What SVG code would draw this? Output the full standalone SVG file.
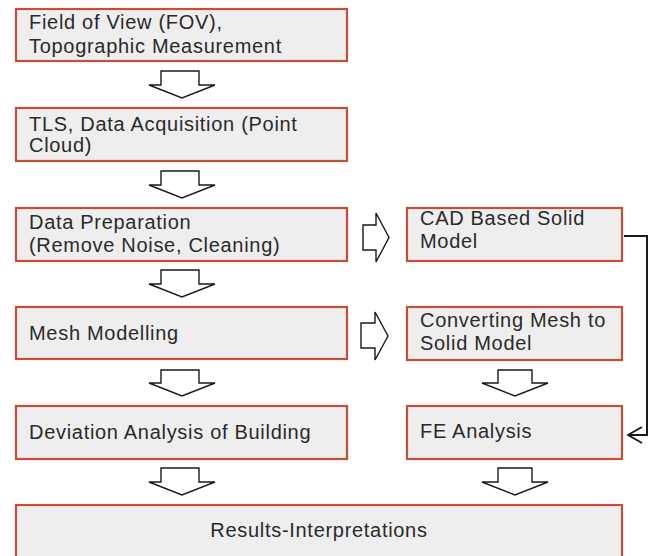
<svg xmlns="http://www.w3.org/2000/svg" width="655" height="556" viewBox="0 0 655 556">
<defs>
<style>
.box{fill:#eeeeee;stroke:#c0503a;stroke-width:2.2}
.t{font-family:"Liberation Sans",Arial,sans-serif;font-size:20px;fill:#2a2a2a;letter-spacing:0.7px}
.blk{fill:#ffffff;stroke:#1a1a1a;stroke-width:1.4;stroke-linejoin:miter}
.con{fill:none;stroke:#1a1a1a;stroke-width:2}
</style>
<marker id="open" viewBox="0 0 16 18" refX="15" refY="9" markerWidth="16" markerHeight="18" markerUnits="userSpaceOnUse" orient="auto">
<path d="M1,1 L15,9 L1,17" fill="none" stroke="#1a1a1a" stroke-width="2"/>
</marker>
</defs>
<rect width="655" height="556" fill="#ffffff"/>

<g id="n1"><rect class="box" x="16" y="9" width="331" height="52"/>
<text class="t" x="29" y="29">Field of View (FOV),</text>
<text class="t" x="29" y="53">Topographic Measurement</text></g>

<g id="n2"><rect class="box" x="16" y="108" width="331" height="53"/>
<text class="t" x="29" y="131">TLS, Data Acquisition (Point</text>
<text class="t" x="29" y="152">Cloud)</text></g>

<g id="n3"><rect class="box" x="16" y="208" width="331" height="53"/>
<text class="t" x="29" y="229">Data Preparation</text>
<text class="t" x="29" y="252">(Remove Noise, Cleaning)</text></g>

<g id="n4"><rect class="box" x="16" y="307" width="331" height="52"/>
<text class="t" x="29" y="340">Mesh Modelling</text></g>

<g id="n5"><rect class="box" x="16" y="406" width="331" height="53"/>
<text class="t" x="29" y="439">Deviation Analysis of Building</text></g>

<g id="n6"><rect class="box" x="407" y="208" width="215" height="53"/>
<text class="t" x="420" y="225">CAD Based Solid</text>
<text class="t" x="420" y="248">Model</text></g>

<g id="n7"><rect class="box" x="407" y="307" width="215" height="53"/>
<text class="t" x="420" y="327">Converting Mesh to</text>
<text class="t" x="420" y="350">Solid Model</text></g>

<g id="n8"><rect class="box" x="407" y="406" width="215" height="53"/>
<text class="t" x="420" y="438">FE Analysis</text></g>

<g id="n9"><rect class="box" x="16" y="505" width="606" height="60"/>
<text class="t" x="319" y="537" text-anchor="middle">Results-Interpretations</text></g>

<g id="connectors">
<polygon class="blk" points="161,71 199,71 199,85 215,85 182,98 149,85 161,85"/>
<polygon class="blk" points="161,171 199,171 199,185 215,185 182,198 149,185 161,185"/>
<polygon class="blk" points="161,270 199,270 199,284 215,284 182,297 149,284 161,284"/>
<polygon class="blk" points="161,370 199,370 199,383 215,383 182,396 149,383 161,383"/>
<polygon class="blk" points="161,468 199,468 199,482 215,482 182,495 149,482 161,482"/>
<polygon class="blk" points="498,370 532,370 532,383 548,383 515,396 482,383 498,383"/>
<polygon class="blk" points="498,468 532,468 532,482 548,482 515,495 482,482 498,482"/>
<polygon class="blk" points="363,225 376,225 376,213 389,237.5 376,262 376,250 363,250"/>
<polygon class="blk" points="361,323 375,323 375,312 388,336 375,360 375,348 361,348"/>
<path class="con" d="M624,236 H647 V435 H628" marker-end="url(#open)"/>
</g>
</svg>
